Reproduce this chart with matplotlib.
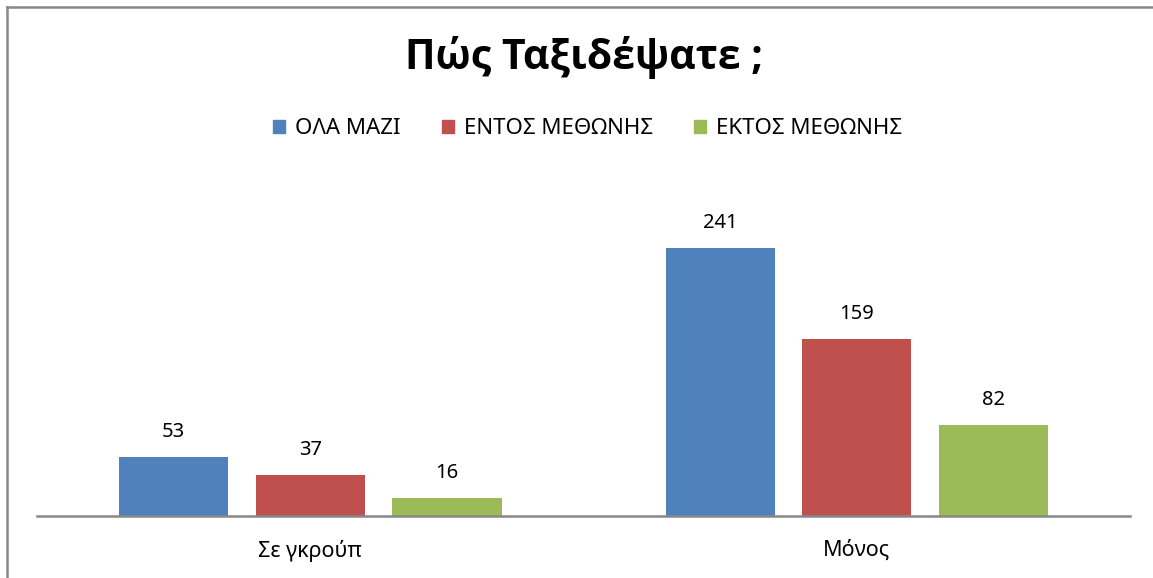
import numpy as np
from matplotlib import pyplot as plt
from matplotlib.lines import Line2D

plt.rcParams['font.family'] = ['Noto Sans', 'DejaVu Sans']

categories = ["Σε γκρούπ", "Μόνος"]
series_names = ["ΟΛΑ ΜΑΖΙ", "ΕΝΤΟΣ ΜΕΘΩΝΗΣ", "ΕΚΤΟΣ ΜΕΘΩΝΗΣ"]
ola_mazi = [53, 241]
entos = [37, 159]
ektos = [16, 82]
colors = ["#4F81BD", "#C0504D", "#9BBB59"]

fig = plt.figure(figsize=(11.53, 5.78), dpi=100)
ax = fig.add_axes([0.0321, 0.1073, 0.9480, 0.578])

x = np.arange(len(categories))
width = 0.2
step = 0.25
for i, (vals, col, name) in enumerate(zip([ola_mazi, entos, ektos], colors, series_names)):
    pos = x + (i - 1) * step
    bars = ax.bar(pos, vals, width, color=col, label=name, zorder=2)
    for b, v in zip(bars, vals):
        ax.text(b.get_x() + b.get_width() / 2, v + 22.5, str(v), ha='center', va='center',
                fontsize=14.5, color='#000000')

ax.set_xlim(-0.5, 1.5)
ax.set_ylim(0, 300)
ax.set_xticks(x)
ax.set_xticklabels(categories, fontsize=15.5)
ax.tick_params(axis='x', length=0, pad=17)
ax.set_yticks([])
for s in ['top', 'right', 'left']:
    ax.spines[s].set_visible(False)
ax.spines['bottom'].set_color('#888888')
ax.spines['bottom'].set_linewidth(1.8)

fig.text(0.5065, 0.8806, "Πώς Ταξιδέψατε ;", ha='center', va='baseline', fontsize=29.5,
         fontweight='bold', family=['Open Sans', 'Liberation Sans', 'DejaVu Sans'])

handles = [plt.Rectangle((0, 0), 1, 1, color=c) for c in colors]
fig.legend(handles, series_names, loc='center', bbox_to_anchor=(0.5096, 0.777), ncol=3,
           frameon=False, fontsize=16, handlelength=0.55, handleheight=0.55,
           handletextpad=0.45, columnspacing=1.85)

# chart border (only top/left visible in the crop)
fig.add_artist(Line2D([0.0061, 0.0061], [0, 0.9880], transform=fig.transFigure, color='#888888', lw=1.8))
fig.add_artist(Line2D([0.0061, 1.0], [0.9880, 0.9880], transform=fig.transFigure, color='#888888', lw=1.8))

fig.savefig("out.png", dpi=100)
